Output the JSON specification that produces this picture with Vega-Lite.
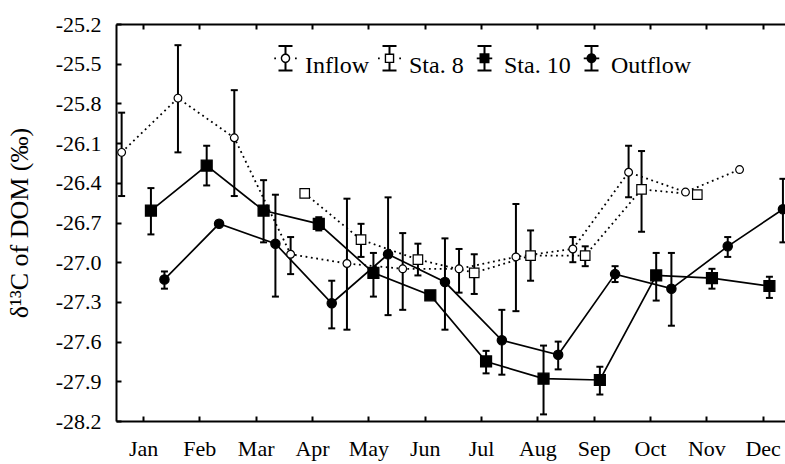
{
  "$schema": "https://vega.github.io/schema/vega-lite/v6.json",
  "autosize": "none",
  "width": 672,
  "height": 397,
  "padding": {"left": 116, "top": 24, "right": 0, "bottom": 43},
  "background": "white",
  "data": {
    "values": [
      {"series": "Inflow", "t": 0.62, "v": -26.17, "lo": -26.50, "hi": -25.87},
      {"series": "Inflow", "t": 1.62, "v": -25.76, "lo": -26.17, "hi": -25.36},
      {"series": "Inflow", "t": 2.62, "v": -26.06, "lo": -26.50, "hi": -25.70},
      {"series": "Inflow", "t": 3.62, "v": -26.94, "lo": -27.09, "hi": -26.81},
      {"series": "Inflow", "t": 4.62, "v": -27.01, "lo": -27.51, "hi": -26.52},
      {"series": "Inflow", "t": 5.61, "v": -27.05, "lo": -27.36, "hi": -26.78},
      {"series": "Inflow", "t": 6.61, "v": -27.05, "lo": -27.23, "hi": -26.90},
      {"series": "Inflow", "t": 7.62, "v": -26.96, "lo": -27.37, "hi": -26.56},
      {"series": "Inflow", "t": 8.63, "v": -26.90, "lo": -27.00, "hi": -26.81},
      {"series": "Inflow", "t": 9.62, "v": -26.32, "lo": -26.51, "hi": -26.12},
      {"series": "Inflow", "t": 10.63, "v": -26.47, "lo": null, "hi": null},
      {"series": "Inflow", "t": 11.59, "v": -26.30, "lo": null, "hi": null},
      {"series": "Sta. 8", "t": 3.87, "v": -26.48, "lo": null, "hi": null},
      {"series": "Sta. 8", "t": 4.87, "v": -26.83, "lo": -26.96, "hi": -26.71},
      {"series": "Sta. 8", "t": 5.88, "v": -26.98, "lo": -27.10, "hi": -26.86},
      {"series": "Sta. 8", "t": 6.88, "v": -27.08, "lo": -27.24, "hi": -26.94},
      {"series": "Sta. 8", "t": 7.88, "v": -26.95, "lo": -27.14, "hi": -26.76},
      {"series": "Sta. 8", "t": 8.85, "v": -26.95, "lo": -27.03, "hi": -26.88},
      {"series": "Sta. 8", "t": 9.85, "v": -26.45, "lo": -26.77, "hi": -26.16},
      {"series": "Sta. 8", "t": 10.84, "v": -26.49, "lo": null, "hi": null},
      {"series": "Sta. 10", "t": 1.14, "v": -26.61, "lo": -26.79, "hi": -26.44},
      {"series": "Sta. 10", "t": 2.13, "v": -26.27, "lo": -26.42, "hi": -26.12},
      {"series": "Sta. 10", "t": 3.14, "v": -26.61, "lo": -26.85, "hi": -26.38},
      {"series": "Sta. 10", "t": 4.12, "v": -26.71, "lo": -26.76, "hi": -26.66},
      {"series": "Sta. 10", "t": 5.09, "v": -27.08, "lo": -27.26, "hi": -26.93},
      {"series": "Sta. 10", "t": 6.10, "v": -27.25, "lo": null, "hi": null},
      {"series": "Sta. 10", "t": 7.09, "v": -27.75, "lo": -27.84, "hi": -27.67},
      {"series": "Sta. 10", "t": 8.11, "v": -27.88, "lo": -28.15, "hi": -27.63},
      {"series": "Sta. 10", "t": 9.11, "v": -27.89, "lo": -28.00, "hi": -27.79},
      {"series": "Sta. 10", "t": 10.11, "v": -27.10, "lo": -27.29, "hi": -26.93},
      {"series": "Sta. 10", "t": 11.10, "v": -27.12, "lo": -27.20, "hi": -27.05},
      {"series": "Sta. 10", "t": 12.12, "v": -27.18, "lo": -27.27, "hi": -27.11},
      {"series": "Outflow", "t": 1.38, "v": -27.13, "lo": -27.20, "hi": -27.07},
      {"series": "Outflow", "t": 2.35, "v": -26.71, "lo": null, "hi": null},
      {"series": "Outflow", "t": 3.35, "v": -26.86, "lo": -27.26, "hi": -26.49},
      {"series": "Outflow", "t": 4.35, "v": -27.31, "lo": -27.50, "hi": -27.14},
      {"series": "Outflow", "t": 5.35, "v": -26.94, "lo": -27.40, "hi": -26.51},
      {"series": "Outflow", "t": 6.36, "v": -27.15, "lo": -27.51, "hi": -26.82},
      {"series": "Outflow", "t": 7.37, "v": -27.59, "lo": -27.85, "hi": -27.36},
      {"series": "Outflow", "t": 8.37, "v": -27.70, "lo": -27.81, "hi": -27.60},
      {"series": "Outflow", "t": 9.38, "v": -27.09, "lo": -27.15, "hi": -27.03},
      {"series": "Outflow", "t": 10.38, "v": -27.20, "lo": -27.48, "hi": -26.93},
      {"series": "Outflow", "t": 11.38, "v": -26.88, "lo": -26.96, "hi": -26.81},
      {"series": "Outflow", "t": 12.36, "v": -26.60, "lo": -26.85, "hi": -26.37}
    ]
  },
  "resolve": {"axis": {"x": "independent"}},
  "layer": [
    {
      "transform": [{"filter": "datum.series === 'Inflow' || datum.series === 'Sta. 8'"}],
      "mark": {"type": "line", "color": "black", "strokeWidth": 1.8, "strokeDash": [1.8, 3.6]},
      "encoding": {
        "x": {
          "field": "t", "type": "quantitative",
          "scale": {"domain": [0.52, 12.45], "nice": false, "zero": false},
          "axis": {
            "orient": "bottom",
            "values": [1, 2, 3, 4, 5, 6, 7, 8, 9, 10, 11, 12],
            "tickCount": 12,
            "labelExpr": "['Jan','Feb','Mar','Apr','May','Jun','Jul','Aug','Sep','Oct','Nov','Dec'][datum.value - 1]",
            "labelFontSize": 22,
            "labelPadding": 22,
            "title": null
          }
        },
        "y": {
          "field": "v", "type": "quantitative",
          "scale": {"domain": [-28.2, -25.2], "nice": false, "zero": false},
          "axis": {
            "values": [-28.2, -27.9, -27.6, -27.3, -27.0, -26.7, -26.4, -26.1, -25.8, -25.5, -25.2],
            "tickCount": 11,
            "labelExpr": "replace(format(datum.value, '.1f'), '\u2212', '-')",
            "labelFontSize": 22,
            "labelPadding": 20,
            "labelOverlap": false,
            "title": "δ¹³C of DOM (‰)",
            "titleFontSize": 26,
            "titleFontWeight": "normal",
            "titlePadding": 23
          }
        },
        "detail": {"field": "series"}
      }
    },
    {
      "transform": [{"filter": "datum.series === 'Sta. 10' || datum.series === 'Outflow'"}],
      "mark": {"type": "line", "color": "black", "strokeWidth": 1.7},
      "encoding": {
        "x": {"field": "t", "type": "quantitative", "axis": null},
        "y": {"field": "v", "type": "quantitative"},
        "detail": {"field": "series"}
      }
    },
    {
      "transform": [{"filter": "datum.lo != null"}],
      "mark": {"type": "rule", "color": "black", "strokeWidth": 2},
      "encoding": {
        "x": {"field": "t", "type": "quantitative", "axis": null},
        "y": {"field": "lo", "type": "quantitative"},
        "y2": {"field": "hi"}
      }
    },
    {
      "transform": [
        {"filter": "datum.lo != null"},
        {"fold": ["lo", "hi"], "as": ["end", "bound"]}
      ],
      "mark": {"type": "tick", "orient": "horizontal", "color": "black", "size": 7, "thickness": 2, "opacity": 1},
      "encoding": {
        "x": {
          "field": "t", "type": "quantitative",
          "axis": {"orient": "top", "labels": false, "title": null, "tickCount": 12, "values": [1, 2, 3, 4, 5, 6, 7, 8, 9, 10, 11, 12]}
        },
        "y": {"field": "bound", "type": "quantitative"}
      }
    },
    {
      "mark": {"type": "point", "stroke": "black", "strokeWidth": 1.2, "opacity": 1, "filled": true},
      "encoding": {
        "x": {"field": "t", "type": "quantitative", "axis": null},
        "y": {"field": "v", "type": "quantitative"},
        "shape": {
          "condition": {"test": "datum.series === 'Inflow' || datum.series === 'Outflow'", "value": "circle"},
          "value": "square"
        },
        "fill": {
          "condition": {"test": "datum.series === 'Inflow' || datum.series === 'Sta. 8'", "value": "white"},
          "value": "black"
        },
        "size": {
          "condition": [
            {"test": "datum.series === 'Inflow'", "value": 60},
            {"test": "datum.series === 'Sta. 8'", "value": 90},
            {"test": "datum.series === 'Sta. 10'", "value": 121}
          ],
          "value": 87
        }
      }
    },
    {
      "transform": [{"filter": "false"}],
      "mark": {"type": "point", "filled": true, "color": "black", "strokeWidth": 0, "size": 625, "opacity": 1},
      "encoding": {
        "x": {"field": "t", "type": "quantitative", "axis": null},
        "y": {"field": "v", "type": "quantitative"},
        "shape": {
          "field": "series", "type": "nominal",
          "scale": {
            "domain": ["Inflow", "Sta. 8", "Sta. 10", "Outflow"],
            "range": [
              "M-0.56,-2.22H0.56V-2.06H-0.56ZM-0.56,-0.26H0.56V-0.1H-0.56ZM-0.08,-2.14H0.08V-1.54H-0.08ZM-0.08,-0.78H0.08V-0.18H-0.08ZM-0.38,-1.16A0.38,0.38,0,1,1,0.38,-1.16A0.38,0.38,0,1,1,-0.38,-1.16ZM-0.27,-1.16A0.27,0.27,0,1,0,0.27,-1.16A0.27,0.27,0,1,0,-0.27,-1.16ZM-0.9,-1.23H-0.76V-1.09H-0.9ZM0.76,-1.23H0.9V-1.09H0.76Z",
              "M-0.56,-2.22H0.56V-2.06H-0.56ZM-0.56,-0.26H0.56V-0.1H-0.56ZM-0.08,-2.14H0.08V-1.54H-0.08ZM-0.08,-0.78H0.08V-0.18H-0.08ZM-0.38,-1.54H0.38V-0.78H-0.38ZM-0.27,-1.43V-0.89H0.27V-1.43ZM-0.92,-1.23H-0.78V-1.09H-0.92ZM0.78,-1.23H0.92V-1.09H0.78Z",
              "M-0.56,-2.22H0.56V-2.06H-0.56ZM-0.56,-0.26H0.56V-0.1H-0.56ZM-0.08,-2.14H0.08V-0.18H-0.08ZM-0.62,-1.23H0.62V-1.09H-0.62ZM-0.4,-1.56H0.4V-0.76H-0.4Z",
              "M-0.56,-2.22H0.56V-2.06H-0.56ZM-0.56,-0.26H0.56V-0.1H-0.56ZM-0.08,-2.14H0.08V-0.18H-0.08ZM-0.62,-1.23H0.62V-1.09H-0.62ZM-0.4,-1.16A0.4,0.4,0,1,1,0.4,-1.16A0.4,0.4,0,1,1,-0.4,-1.16Z"
            ]
          },
          "legend": {"title": null}
        }
      }
    }
  ],
  "config": {
    "font": "Liberation Serif",
    "view": {"stroke": null},
    "axis": {
      "grid": false,
      "labelOverlap": false,
      "domainColor": "black",
      "domainWidth": 2,
      "tickColor": "black",
      "tickWidth": 2,
      "tickSize": -5,
      "labelColor": "black",
      "labelFont": "Liberation Serif",
      "titleFont": "Liberation Serif",
      "titleColor": "black"
    },
    "legend": {
      "orient": "none",
      "legendX": 157,
      "legendY": 36,
      "direction": "horizontal",
      "padding": 0,
      "symbolSize": 625,
      "symbolStrokeWidth": 0,
      "symbolOpacity": 1,
      "labelOffset": 7,
      "columnPadding": 8,
      "labelFont": "Liberation Serif",
      "labelFontSize": 24,
      "labelFontWeight": "normal",
      "labelColor": "black",
      "labelBaseline": "alphabetic"
    }
  }
}
